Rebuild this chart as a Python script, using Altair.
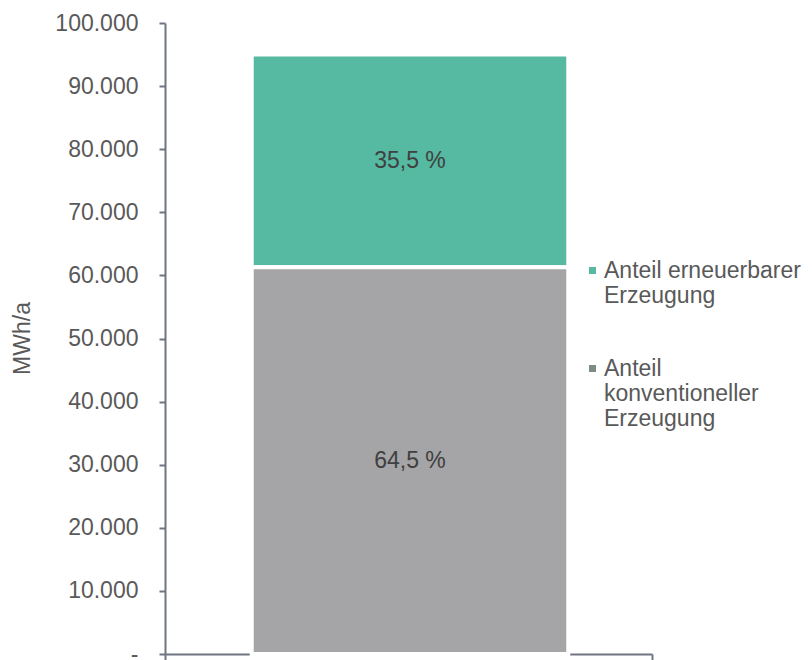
import altair as alt
import pandas as pd

# Data
categories = ["Anteil erneuerbarer\nErzeugung", "Anteil\nkonventioneller\nErzeugung"]
values = [33700, 61300]          # MWh/a
shares = ["35,5 %", "64,5 %"]
stack_order = [1, 0]             # 0 = bottom
bar_fill = ["#56B9A1", "#A5A5A7"]
legend_fill = ["#56B9A1", "#7F8C86"]

# Stack computation
order = sorted(range(len(categories)), key=lambda i: stack_order[i])
start = {}
acc = 0
for i in order:
    start[i] = acc
    acc += values[i]

df = pd.DataFrame({
    "group": ["Gesamt"] * len(categories),
    "kategorie": categories,
    "legende": categories,
    "wert": values,
    "anteil": shares,
    "y0": [start[i] for i in range(len(categories))],
    "y1": [start[i] + values[i] for i in range(len(categories))],
})
df["mid"] = (df["y0"] + df["y1"]) / 2

FONT = "Liberation Sans"
TXT = "#595959"
AX = "#6E7781"

x_enc = alt.X(
    "group:N",
    scale=alt.Scale(paddingInner=0, paddingOuter=0),
    axis=alt.Axis(
        title=None, labels=False, tickBand="extent", tickSize=7, tickWidth=2,
        tickColor=AX, domainColor=AX, domainWidth=2,
    ),
)

y_scale = alt.Scale(domain=[0, 100000], nice=False)

bars = alt.Chart(df).mark_bar(
    width=alt.RelativeBandSize(0.65), stroke="white", strokeWidth=4, xOffset=1.5
).encode(
    x=x_enc,
    y=alt.Y(
        "y0:Q",
        scale=y_scale,
        axis=alt.Axis(
            title="MWh/a", values=list(range(0, 100001, 10000)),
            labelExpr="datum.value == 0 ? '-' : replace(format(datum.value, ','), /,/g, '.')",
            labelFont=FONT, labelFontSize=23, labelColor=TXT, labelPadding=21,
            tickSize=6, tickWidth=2, tickColor=AX, domainColor=AX, domainWidth=2,
            grid=False, titleFont=FONT, titleFontSize=23, titleColor=TXT,
            titleFontWeight="normal", titleAngle=-90, titleX=-143, titleY=315,
            titleAlign="center", titleBaseline="middle",
        ),
    ),
    y2="y1:Q",
    fill=alt.Fill("kategorie:N", scale=alt.Scale(domain=categories, range=bar_fill), legend=None),
)

legend_layer = alt.Chart(df).mark_point(opacity=0, filled=True, shape="square").encode(
    x=alt.X("group:N"),
    y=alt.Y("mid:Q", scale=y_scale),
    fill=alt.Fill(
        "legende:N",
        scale=alt.Scale(domain=categories, range=legend_fill),
        legend=alt.Legend(
            title=None, orient="none", legendX=416, legendY=236,
            symbolType="square", symbolSize=49, symbolStrokeWidth=0, symbolOpacity=1,
            labelFont=FONT, labelFontSize=23, labelColor=TXT, labelLimit=400,
            labelExpr="split(datum.label, '\\n')",
            labelOffset=0, rowPadding=49, padding=0,
        ),
    ),
)

labels = alt.Chart(df).mark_text(
    font=FONT, fontSize=23, color="#404040", baseline="middle", align="center", dx=1.5
).encode(
    x=alt.X("group:N"),
    y=alt.Y("mid:Q", scale=y_scale),
    text="anteil:N",
)

chart = alt.layer(bars, legend_layer, labels).resolve_scale(fill="independent").properties(
    width=487, height=631,
    autosize=alt.AutoSizeParams(type="none"),
    padding={"left": 165, "top": 23, "right": 160, "bottom": 6},
).configure_view(stroke=None)

chart.save("out.html", embed_options={"renderer": "svg", "actions": False})
